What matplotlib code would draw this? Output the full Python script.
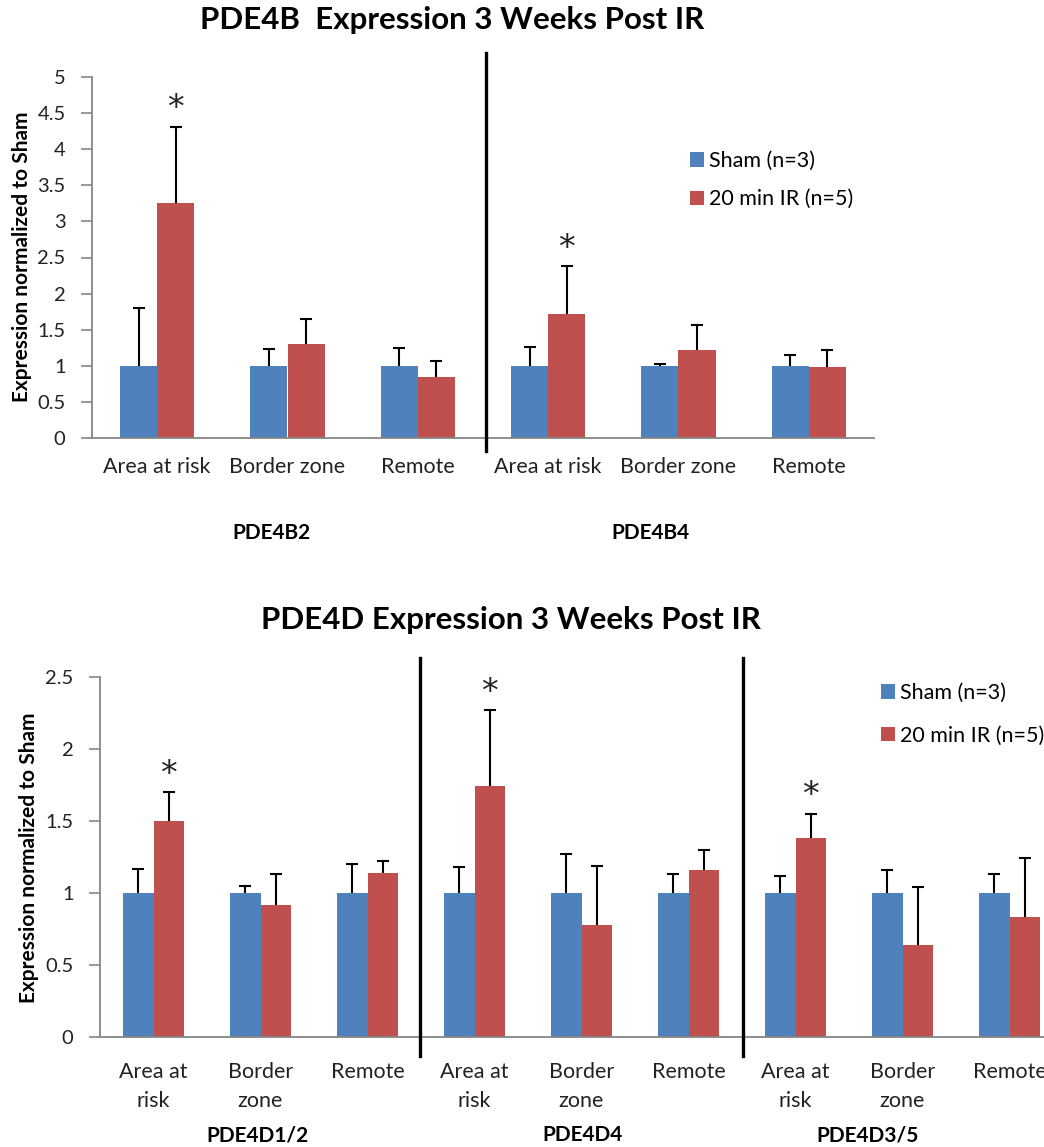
import numpy as np
import matplotlib
matplotlib.use("Agg")
import matplotlib.pyplot as plt
from matplotlib.lines import Line2D

plt.rcParams['font.family'] = ['Lato', 'DejaVu Sans']

BLUE = '#4F81BD'
RED = '#C0504D'
AXC = '#868686'
TXT = '#222222'

# ---- data ----
regions_top = ['Area at risk', 'Border zone', 'Remote']
regions_bot = ['Area at\nrisk', 'Border\nzone', 'Remote']

pde4b_genes = ['PDE4B2', 'PDE4B4']
pde4b_sham = [[1.0, 1.0, 1.0], [1.0, 1.0, 1.0]]
pde4b_sham_err = [[0.80, 0.23, 0.25], [0.26, 0.03, 0.15]]
pde4b_ir = [[3.26, 1.30, 0.85], [1.72, 1.22, 0.98]]
pde4b_ir_err = [[1.05, 0.35, 0.22], [0.66, 0.35, 0.24]]
pde4b_star = [[True, False, False], [True, False, False]]

pde4d_genes = ['PDE4D1/2', 'PDE4D4', 'PDE4D3/5']
pde4d_sham = [[1.0, 1.0, 1.0], [1.0, 1.0, 1.0], [1.0, 1.0, 1.0]]
pde4d_sham_err = [[0.17, 0.05, 0.20], [0.18, 0.27, 0.13], [0.12, 0.16, 0.13]]
pde4d_ir = [[1.50, 0.92, 1.14], [1.74, 0.78, 1.16], [1.38, 0.64, 0.83]]
pde4d_ir_err = [[0.20, 0.21, 0.08], [0.53, 0.41, 0.14], [0.17, 0.40, 0.41]]
pde4d_star = [[True, False, False], [True, False, False], [True, False, False]]

W, H = 1044, 1147
fig = plt.figure(figsize=(W / 100, H / 100), dpi=100)


def fx(px):
    return px / W


def fy(py):
    return 1 - py / H


def panel(left, right, y0, ytop, cats, sham, sham_err, ir, ir_err, stars, ymax, step, bw, lblpad, lsp):
    ax = fig.add_axes([fx(left), fy(y0), fx(right - left), (y0 - ytop) / H])
    labels = [c for g in sham for c in cats]
    sham = np.concatenate(sham)
    sham_err = np.concatenate(sham_err)
    ir = np.concatenate(ir)
    ir_err = np.concatenate(ir_err)
    stars = np.concatenate(stars)
    x = np.arange(len(labels))
    b1 = ax.bar(x - bw / 2, sham, bw, color=BLUE)
    b2 = ax.bar(x + bw / 2, ir, bw, color=RED)
    # upper error bars only
    for xs, v, e in [(x - bw / 2, sham, sham_err), (x + bw / 2, ir, ir_err)]:
        ax.vlines(xs, v, v + e, color='black', lw=1.5, zorder=3)
        ax.plot(xs, v + e, ls='none', marker='_', ms=8, mew=1.5, color='black', zorder=3)
    for i in np.where(stars)[0]:
        ax.annotate('*', (x[i] + bw / 2, ir[i] + ir_err[i]), xytext=(0, 1),
                    textcoords='offset points', ha='center', va='bottom',
                    fontsize=24, color=TXT, family='DejaVu Sans')
    ax.set_xlim(-0.5, len(labels) - 0.5)
    ax.set_ylim(0, ymax)
    ax.set_xticks(x)
    ax.set_xticklabels(labels, fontsize=15.5, color=TXT, linespacing=lsp)
    ax.tick_params(axis='x', length=0, pad=lblpad)
    ticks = np.arange(0, ymax + 0.01, step)
    ax.set_yticks(ticks)
    ax.set_yticklabels(['%g' % t for t in ticks])
    ax.tick_params(axis='y', direction='out', length=8, width=1.2, color=AXC,
                   labelsize=14.5, labelcolor=TXT, pad=11)
    for s in ['top', 'right']:
        ax.spines[s].set_visible(False)
    for s in ['bottom', 'left']:
        ax.spines[s].set_color(AXC)
        ax.spines[s].set_linewidth(1.3)
    ax.patch.set_alpha(0)
    return ax, b1, b2


# ---- top: PDE4B ----
ax, b1, b2 = panel(92, 874, 438, 77, regions_top, pde4b_sham, pde4b_sham_err,
                   pde4b_ir, pde4b_ir_err, pde4b_star, 5, 0.5, 0.284, 14, 1.2)
fig.text(fx(22), fy(257), 'Expression normalized to Sham', rotation=90, ha='center',
         va='center', fontsize=15, fontweight='bold')
fig.text(fx(452), fy(20), 'PDE4B  Expression 3 Weeks Post IR', ha='center', va='center',
         fontsize=22.5, fontweight='bold')
for gx, name in zip([271, 650], pde4b_genes):
    fig.text(fx(gx), fy(533), name, ha='center', va='center', fontsize=15, fontweight='bold')
fig.add_artist(Line2D([fx(486), fx(486)], [fy(53), fy(451)], color='black', lw=2.4))
fig.legend((b1, b2), ['Sham (n=3)', '20 min IR (n=5)'], loc='upper left',
           bbox_to_anchor=(fx(690), fy(151)), frameon=False, fontsize=15.5,
           borderpad=0, borderaxespad=0,
           handlelength=0.65, handleheight=0.65, handletextpad=0.25, labelspacing=0.85)

# ---- bottom: PDE4D ----
ax, b1, b2 = panel(100, 1063, 1037, 677, regions_bot, pde4d_sham, pde4d_sham_err,
                   pde4d_ir, pde4d_ir_err, pde4d_star, 2.5, 0.5, 0.285, 18, 1.55)
fig.text(fx(29), fy(858), 'Expression normalized to Sham', rotation=90, ha='center',
         va='center', fontsize=15, fontweight='bold')
fig.text(fx(511), fy(620), 'PDE4D Expression 3 Weeks Post IR', ha='center', va='center',
         fontsize=22.5, fontweight='bold')
for gx, name in zip([258, 582, 868], pde4d_genes):
    fig.text(fx(gx), fy(1135), name, ha='center', va='center', fontsize=15, fontweight='bold')
for sx in [420, 743]:
    fig.add_artist(Line2D([fx(sx), fx(sx)], [fy(658), fy(1056)], color='black', lw=2.4))
fig.legend((b1, b2), ['Sham (n=3)', '20 min IR (n=5)'], loc='upper left',
           bbox_to_anchor=(fx(881), fy(683)), frameon=False, fontsize=15.5,
           borderpad=0, borderaxespad=0,
           handlelength=0.65, handleheight=0.65, handletextpad=0.25, labelspacing=1.05)

fig.savefig('out.png', dpi=100)
